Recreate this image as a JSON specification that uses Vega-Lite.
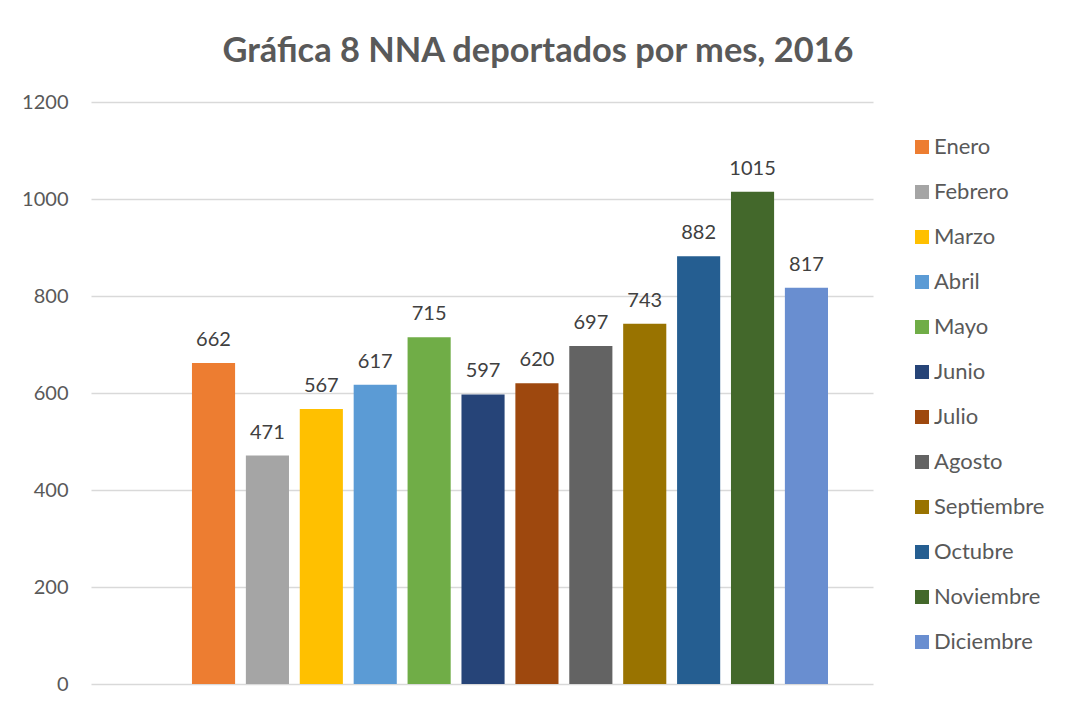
{
  "$schema": "https://vega.github.io/schema/vega-lite/v6.json",
  "autosize": {"type": "none"},
  "width": 782,
  "height": 582,
  "padding": {"left": 91, "top": 102, "right": 203, "bottom": 29},
  "background": "white",
  "title": {
    "text": "Gráfica 8 NNA deportados por mes, 2016",
    "font": "Lato",
    "fontSize": 34.4,
    "fontWeight": "bold",
    "color": "#595959",
    "anchor": "middle",
    "frame": "group",
    "dx": 56,
    "offset": 23
  },
  "data": {
    "values": [
      {"anio": "2016", "mes": "Enero", "valor": 662},
      {"anio": "2016", "mes": "Febrero", "valor": 471},
      {"anio": "2016", "mes": "Marzo", "valor": 567},
      {"anio": "2016", "mes": "Abril", "valor": 617},
      {"anio": "2016", "mes": "Mayo", "valor": 715},
      {"anio": "2016", "mes": "Junio", "valor": 597},
      {"anio": "2016", "mes": "Julio", "valor": 620},
      {"anio": "2016", "mes": "Agosto", "valor": 697},
      {"anio": "2016", "mes": "Septiembre", "valor": 743},
      {"anio": "2016", "mes": "Octubre", "valor": 882},
      {"anio": "2016", "mes": "Noviembre", "valor": 1015},
      {"anio": "2016", "mes": "Diciembre", "valor": 817}
    ]
  },
  "encoding": {
    "x": {
      "field": "anio",
      "type": "nominal",
      "scale": {"paddingInner": 0, "paddingOuter": 0.1045, "align": 0.707},
      "axis": null
    },
    "xOffset": {
      "field": "mes",
      "type": "nominal",
      "sort": ["Enero","Febrero","Marzo","Abril","Mayo","Junio","Julio","Agosto","Septiembre","Octubre","Noviembre","Diciembre"],
      "scale": {"paddingInner": 0.2, "paddingOuter": 0.1, "align": 0.5}
    },
    "y": {
      "field": "valor",
      "type": "quantitative",
      "scale": {"domain": [0, 1200], "nice": false},
      "axis": {
        "title": null,
        "values": [0, 200, 400, 600, 800, 1000, 1200],
        "format": "d",
        "grid": true,
        "gridColor": "#d9d9d9",
        "gridWidth": 1.3,
        "domain": false,
        "ticks": false,
        "tickSize": 0,
        "labelPadding": 23,
        "labelFont": "Lato",
        "labelFontSize": 20,
        "labelColor": "#595959"
      }
    }
  },
  "layer": [
    {
      "mark": {"type": "bar"},
      "encoding": {
        "color": {
          "field": "mes",
          "type": "nominal",
          "scale": {
            "domain": ["Enero","Febrero","Marzo","Abril","Mayo","Junio","Julio","Agosto","Septiembre","Octubre","Noviembre","Diciembre"],
            "range": ["#ED7D31","#A5A5A5","#FFC000","#5B9BD5","#70AD47","#264478","#9E480E","#636363","#997300","#255E91","#43682B","#698ED0"]
          },
          "legend": {
            "title": null,
            "orient": "none",
            "legendX": 820,
            "legendY": 34,
            "padding": 0,
            "symbolType": "square",
            "symbolSize": 196,
            "symbolStrokeWidth": 0,
            "labelFont": "Lato",
            "labelFontSize": 22,
            "labelColor": "#595959",
            "labelOffset": 1,
            "rowPadding": 23
          }
        }
      }
    },
    {
      "mark": {"type": "text", "baseline": "alphabetic", "dy": -17, "font": "Lato", "fontSize": 20, "color": "#404040"},
      "encoding": {
        "text": {"field": "valor", "type": "quantitative", "format": "d"}
      }
    }
  ],
  "config": {
    "view": {"stroke": null}
  }
}
